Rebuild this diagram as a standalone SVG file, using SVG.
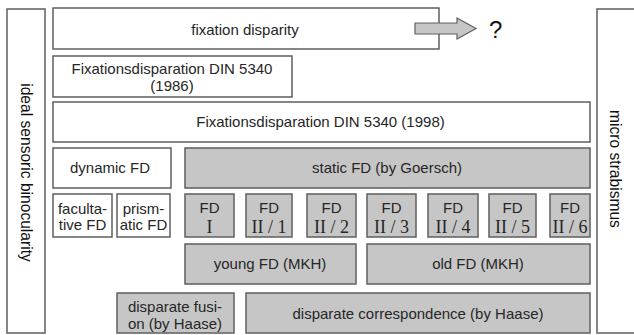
<svg xmlns="http://www.w3.org/2000/svg" width="634" height="335" viewBox="0 0 634 335">
<style>
.b{fill:#ffffff;stroke:#5f5f5f;stroke-width:1.5}
.g{fill:#c6c6c6;stroke:#5f5f5f;stroke-width:1.5}
text{font-family:"Liberation Sans",Arial,sans-serif;font-size:15px;fill:#262626;text-anchor:middle}
.s{font-family:"Liberation Serif","DejaVu Serif",serif;font-size:18px}
.v{font-size:15.6px;fill:#111111}
</style>
<rect width="634" height="335" fill="#ffffff"/>
<g id="ideal"><rect class="b" x="7" y="9" width="38" height="324"/><text class="v" transform="translate(21,172.5) rotate(90)">ideal sensoric binocularity</text></g>
<g id="micro"><rect class="b" x="597" y="9" width="40" height="324"/><text class="v" transform="translate(610,169) rotate(90)">micro strabismus</text></g>
<g id="fd"><rect class="b" x="53" y="8" width="386" height="41"/><text x="245" y="35">fixation disparity</text></g>
<g id="connectors"><path d="M415 23 H457 V18 L476 28.5 L457 39 V34 H415 Z" fill="#c6c6c6" stroke="#5f5f5f" stroke-width="1.2"/></g>
<g id="q"><text x="489" y="38" style="font-size:24px;text-anchor:start;fill:#111">?</text></g>
<g id="din1986"><rect class="b" x="53" y="56" width="239" height="41"/><text x="172" y="73.5">Fixationsdisparation DIN 5340</text><text x="172" y="90.5">(1986)</text></g>
<g id="din1998"><rect class="b" x="53" y="102" width="537" height="40"/><text x="320.5" y="127">Fixationsdisparation DIN 5340 (1998)</text></g>
<g id="dynamic"><rect class="b" x="53" y="148" width="118" height="40"/><text x="110" y="172.5">dynamic FD</text></g>
<g id="static"><rect class="g" x="185" y="148" width="405" height="40"/><text x="387" y="172.5">static FD (by Goersch)</text></g>
<g id="facultative"><rect class="b" x="53" y="194" width="59" height="43"/><text x="82.5" y="214">faculta-</text><text x="82.5" y="230">tive FD</text></g>
<g id="prismatic"><rect class="b" x="117" y="194" width="53" height="43"/><text x="143.5" y="214">prism-</text><text x="143.5" y="230">atic FD</text></g>
<g id="fdI"><rect class="g" x="185" y="194" width="49" height="43"/><text x="209.5" y="213">FD</text><text class="s" x="209.5" y="233">I</text></g>
<g id="fdII1"><rect class="g" x="246" y="194" width="46" height="43"/><text x="269" y="213">FD</text><text class="s" x="269" y="233">II / 1</text></g>
<g id="fdII2"><rect class="g" x="307" y="194" width="49" height="43"/><text x="331.5" y="213">FD</text><text class="s" x="331.5" y="233">II / 2</text></g>
<g id="fdII3"><rect class="g" x="367" y="194" width="49" height="43"/><text x="391.5" y="213">FD</text><text class="s" x="391.5" y="233">II / 3</text></g>
<g id="fdII4"><rect class="g" x="428" y="194" width="50" height="43"/><text x="453" y="213">FD</text><text class="s" x="453" y="233">II / 4</text></g>
<g id="fdII5"><rect class="g" x="489" y="194" width="47" height="43"/><text x="512.5" y="213">FD</text><text class="s" x="512.5" y="233">II / 5</text></g>
<g id="fdII6"><rect class="g" x="550" y="194" width="40" height="43"/><text x="570" y="213">FD</text><text class="s" x="570" y="233">II / 6</text></g>
<g id="young"><rect class="g" x="185" y="244" width="171" height="40"/><text x="270" y="269">young FD (MKH)</text></g>
<g id="old"><rect class="g" x="367" y="244" width="223" height="40"/><text x="478" y="269">old FD (MKH)</text></g>
<g id="fusion"><rect class="g" x="117" y="293" width="117" height="40"/><text x="175" y="312">disparate fusi-</text><text x="175" y="329">on (by Haase)</text></g>
<g id="correspondence"><rect class="g" x="246" y="293" width="344" height="40"/><text x="418" y="319">disparate correspondence (by Haase)</text></g>
</svg>
